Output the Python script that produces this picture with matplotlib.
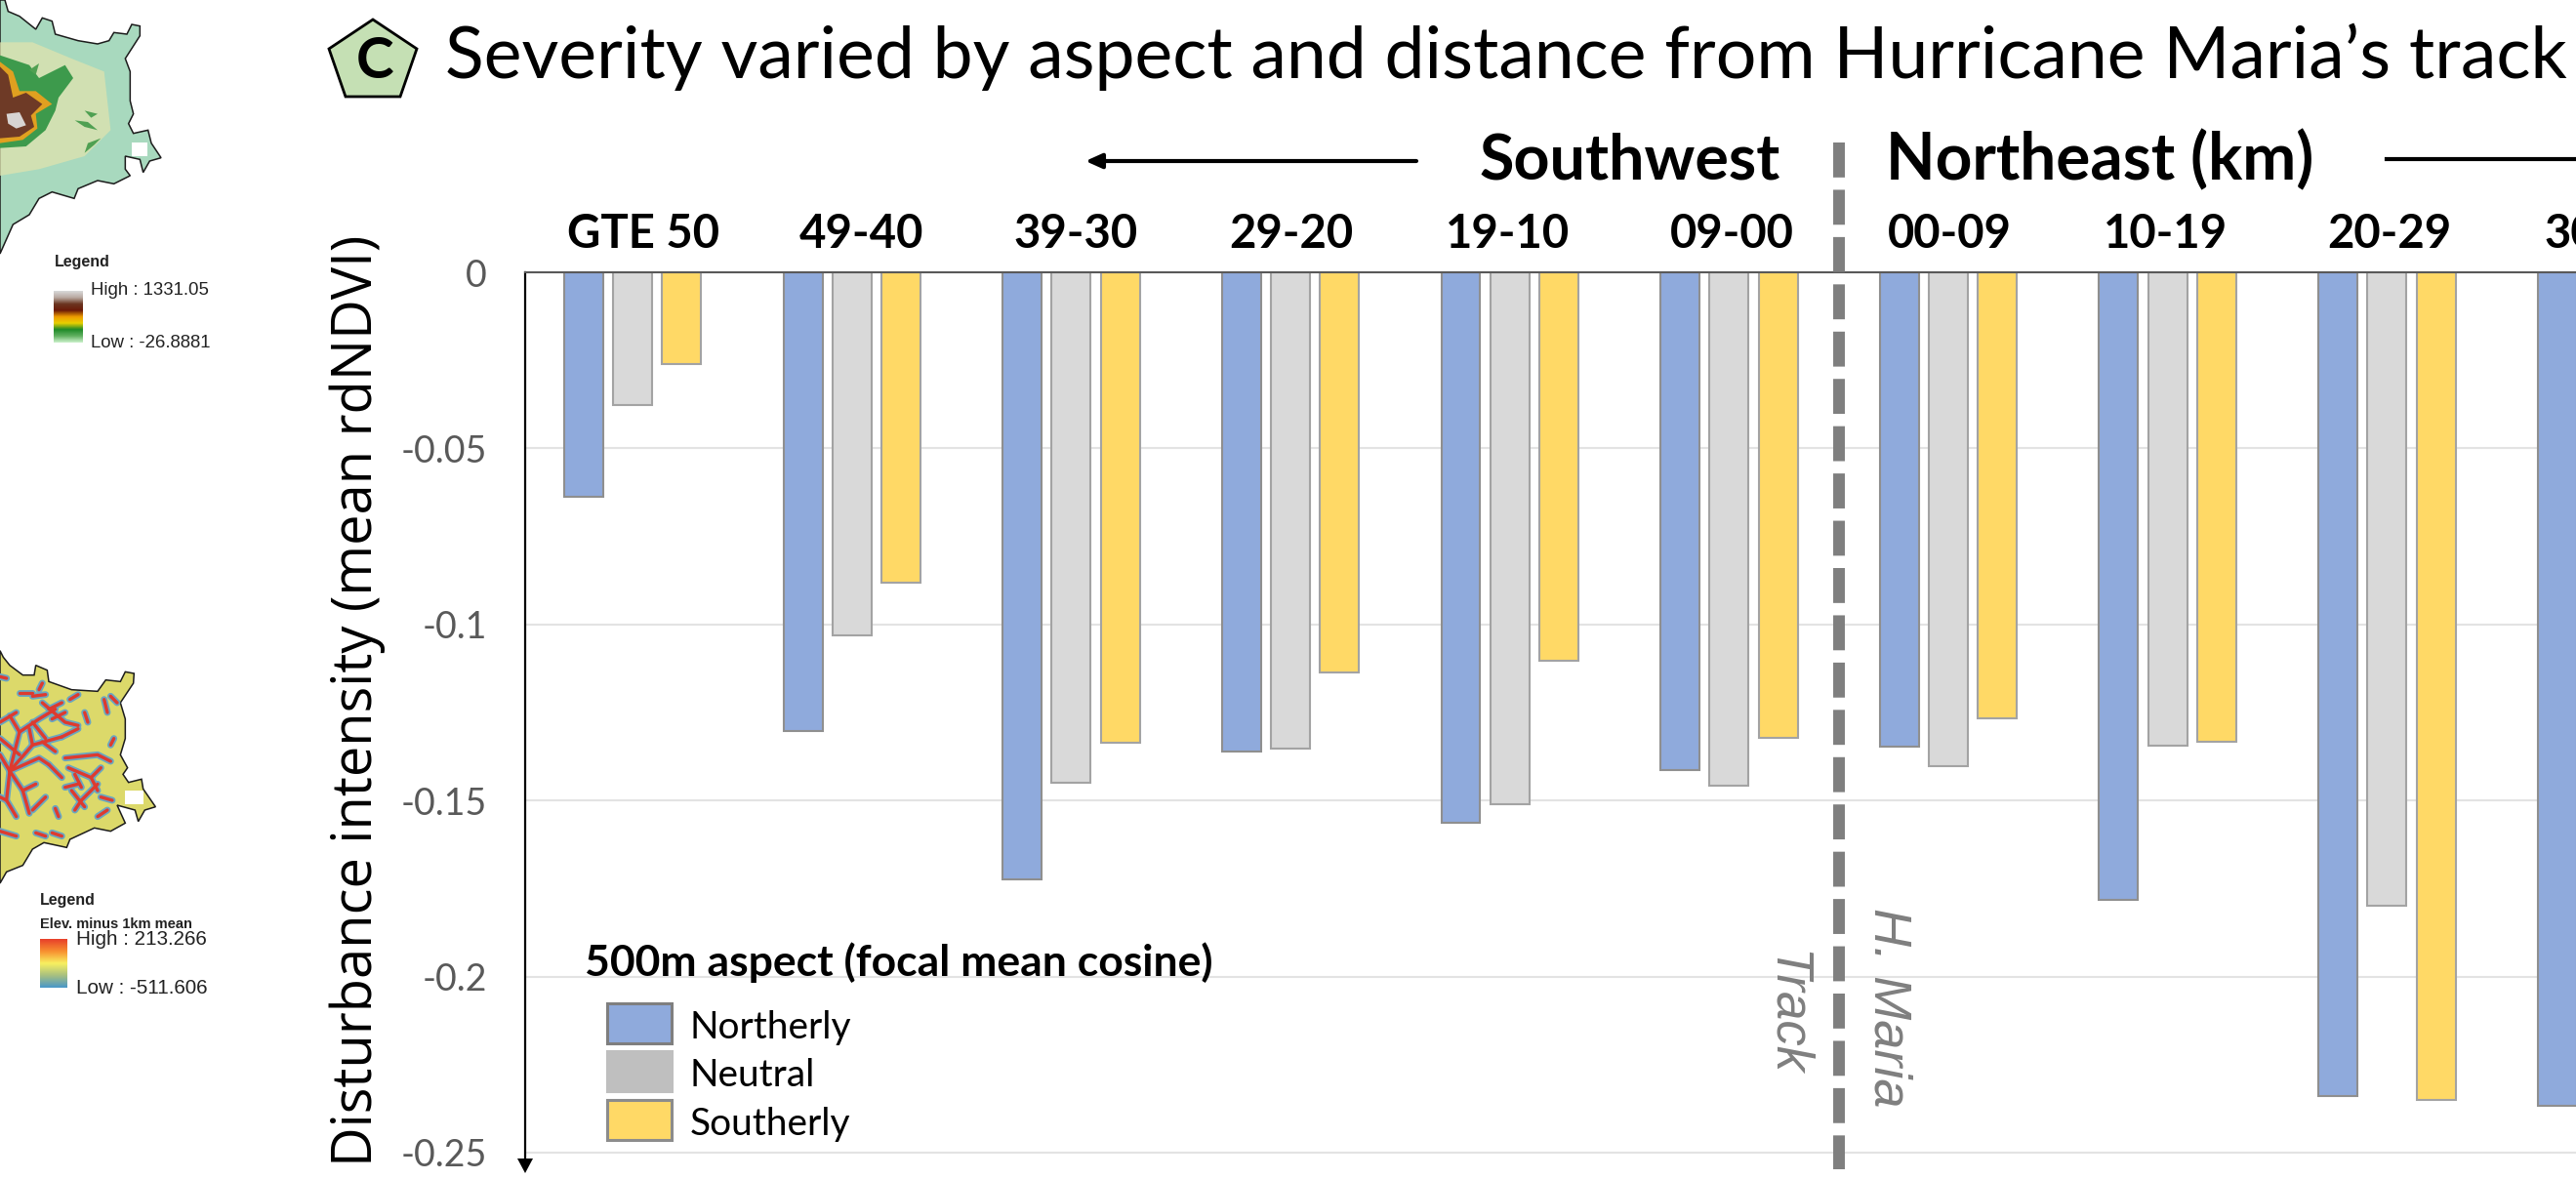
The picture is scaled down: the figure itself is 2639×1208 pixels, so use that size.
import numpy as np
import matplotlib
matplotlib.use('Agg')
import matplotlib.pyplot as plt
from matplotlib.colors import LinearSegmentedColormap
from matplotlib.patches import Polygon, Rectangle

# bar values, last group is cut by the right edge
distance_bins = ['GTE 50', '49-40', '39-30', '29-20', '19-10', '09-00', '00-09', '10-19', '20-29', '30-39']
northerly = [-0.0638, -0.1302, -0.1723, -0.1362, -0.1562, -0.1413, -0.1347, -0.1783, -0.2338, -0.2367]
neutral = [-0.0377, -0.1032, -0.1450, -0.1352, -0.1510, -0.1458, -0.1403, -0.1345, -0.1798, np.nan]
southerly = [-0.0261, -0.0882, -0.1336, -0.1137, -0.1102, -0.1323, -0.1268, -0.1333, -0.2349, np.nan]
y_ticks = [0, -0.05, -0.1, -0.15, -0.2, -0.25]
y_tick_labels = ['0', '-0.05', '-0.1', '-0.15', '-0.2', '-0.25']
legend_labels = ['Northerly', 'Neutral', 'Southerly']
# the bin names were placed by hand in the original, not quite over the groups
bin_label_shift = [0.05, 0.045, 0.02, 0.005, -0.008, 0.015, 0.005, -0.008, 0.01, 0]

# map outlines (zoomed pixels, divided by 3 later)
map1_outline = [(15, 0), (25, 35), (60, 50), (110, 90), (130, 55), (160, 65), (170, 105), (240, 125), (300, 135),
                (335, 125), (350, 100), (390, 105), (405, 75), (430, 80), (430, 110), (385, 180), (400, 220),
                (400, 310), (410, 350), (395, 380), (410, 410), (455, 400), (465, 440), (495, 485), (460, 495),
                (440, 530), (430, 490), (385, 480), (385, 520), (400, 540), (350, 565), (300, 555), (240, 580),
                (228, 610), (160, 590), (120, 610), (90, 660), (40, 690), (0, 780), (0, 0)]
map1_tan = [(0, 130), (100, 130), (220, 180), (320, 220), (340, 400), (260, 480), (120, 520), (0, 540)]
map1_green = [(0, 170), (60, 190), (90, 200), (120, 240), (200, 200), (225, 240), (180, 300), (170, 340),
              (140, 400), (80, 450), (0, 455)]
map1_orange = [(0, 190), (40, 220), (60, 280), (110, 280), (160, 320), (110, 350), (115, 395), (70, 430), (0, 440)]
map1_brown = [(0, 205), (25, 230), (40, 300), (80, 285), (130, 320), (95, 355), (105, 390), (60, 420), (0, 425)]
map1_peak = [(20, 350), (60, 345), (80, 385), (50, 395), (25, 380)]
map1_pods = [[(230, 370), (270, 375), (300, 400), (260, 390)], [(260, 340), (300, 350), (280, 362)],
             [(260, 470), (270, 440), (310, 425), (290, 445)], [(90, 215), (120, 195), (110, 230)]]

map2_outline = [(0, 80), (10, 100), (30, 125), (70, 155), (105, 155), (110, 125), (145, 140), (150, 175), (220, 200),
                (300, 205), (325, 170), (370, 175), (385, 145), (412, 150), (410, 180), (370, 240), (385, 290),
                (385, 350), (370, 400), (392, 440), (378, 460), (395, 485), (435, 475), (440, 505), (478, 560),
                (445, 570), (425, 605), (415, 570), (360, 555), (385, 610), (340, 635), (290, 625), (215, 660),
                (205, 685), (135, 670), (100, 690), (70, 740), (20, 760), (0, 795)]
map2_veins = [[(30, 450), (100, 370), (190, 345)], [(30, 450), (60, 330), (120, 290), (170, 260)],
              [(30, 450), (0, 400)], [(30, 450), (70, 510), (90, 580)], [(30, 450), (20, 540), (50, 590)],
              [(30, 450), (120, 410), (150, 430)], [(250, 540), (300, 490)], [(210, 440), (280, 470), (310, 440)],
              [(200, 410), (300, 400), (340, 420)], [(130, 240), (200, 300), (240, 310)], [(60, 210), (100, 210)],
              [(260, 270), (270, 300)], [(340, 220), (360, 240)], [(330, 570), (300, 590)], [(170, 565), (180, 590)],
              [(0, 635), (50, 650)], [(160, 640), (190, 650)], [(0, 160), (20, 165)], [(130, 180), (120, 200)],
              [(215, 230), (240, 215)], [(350, 350), (340, 370)], [(140, 530), (100, 570)], [(220, 510), (260, 560)],
              [(200, 500), (240, 490)], [(0, 300), (50, 270)], [(0, 350), (60, 400)], [(100, 300), (140, 350)],
              [(60, 330), (30, 280)], [(100, 370), (90, 320)], [(130, 360), (170, 390)], [(70, 510), (110, 490)],
              [(20, 540), (0, 530)], [(230, 460), (250, 500)], [(280, 470), (300, 510)], [(150, 260), (190, 240)],
              [(250, 540), (230, 570)], [(320, 230), (330, 270)], [(160, 290), (200, 270)], [(190, 345), (240, 320)],
              [(100, 220), (140, 215)], [(150, 430), (190, 470)], [(310, 530), (345, 540)], [(140, 650), (110, 640)]]

W, H = 2639, 1208
fig = plt.figure(figsize=(W / 100, H / 100), dpi=100)

# main chart axes
ax = fig.add_axes([538 / W, (H - 1190) / H, (W - 538) / W, (1190 - 279) / H])
x = np.arange(len(distance_bins))
bar_w = 0.178
step = 0.2235
edge = '#8f8f8f'
ax.bar(x - step, northerly, bar_w, color='#8faadc', edgecolor=edge, linewidth=1.5)
ax.bar(x, neutral, bar_w, color='#d9d9d9', edgecolor='#a3a3a3', linewidth=1.5)
ax.bar(x + step, southerly, bar_w, color='#ffd966', edgecolor='#a3a3a3', linewidth=1.5)
ax.set_yticks(y_ticks)
ax.set_yticklabels(y_tick_labels, fontfamily='Lato', fontsize=27, color='#595959')
ax.set_xticks([])
ax.set_xlim(-0.49, 8.862)
ax.set_ylim(-0.2525, 0)
# bin names as plain text, the last one runs off the picture
for xi, name, shift in zip(x, distance_bins, bin_label_shift):
    ax.text(xi + shift, 1.043, name, transform=ax.get_xaxis_transform(), family='Lato', fontweight='bold',
            fontsize=34, ha='center', va='center')
ax.tick_params(axis='y', length=0, pad=28)
ax.grid(axis='y', color='#e3e3e3', linewidth=1.5)
ax.set_axisbelow(True)
for side in ['right', 'bottom']:
    ax.spines[side].set_visible(False)
ax.spines['top'].set_color('#595959')
ax.spines['top'].set_linewidth(1.5)
ax.spines['left'].set_color('black')
ax.spines['left'].set_linewidth(1.6)

# overlay in picture pixels for everything that sits round the chart
ov = fig.add_axes([0, 0, 1, 1])
ov.patch.set_alpha(0)
ov.axis('off')


def px(points, dy=0):
    return [(a / 3, b / 3 + dy) for a, b in points]


# map 1, elevation
ov.add_patch(Polygon(px(map1_outline), closed=True, fc='#a8d9be', ec='#1c1c1c', lw=1.1, zorder=1))
ov.add_patch(Polygon(px(map1_tan), closed=True, fc='#dfe3ae', ec='none', alpha=0.75, zorder=2))
ov.add_patch(Polygon(px(map1_green), closed=True, fc='#3d9a4c', ec='none', zorder=3))
ov.add_patch(Polygon(px(map1_orange), closed=True, fc='#e0a020', ec='none', zorder=4))
ov.add_patch(Polygon(px(map1_brown), closed=True, fc='#6e3a26', ec='none', zorder=5))
ov.add_patch(Polygon(px(map1_peak), closed=True, fc='#d8d4d2', ec='none', zorder=6))
for pod in map1_pods:
    ov.add_patch(Polygon(px(pod), closed=True, fc='#4fa052', ec='none', zorder=3))
ov.add_patch(Rectangle((135, 146), 16, 14, fc='white', ec='none', zorder=2))

# map 2, elevation minus local mean
outline2 = Polygon(px(map2_outline, 640), closed=True, fc='#dcd96a', ec='#1c1c1c', lw=1.1, zorder=1)
ov.add_patch(outline2)
for vein in map2_veins:
    p = px(vein, 640)
    l1, = ov.plot(*zip(*p), color='#6aa6c0', lw=5, solid_capstyle='round', zorder=2)
    l1.set_clip_path(outline2)
for vein in map2_veins:
    p = px(vein, 640)
    l2, = ov.plot(*zip(*p), color='#de3a2e', lw=2.4, solid_capstyle='round', zorder=3)
    l2.set_clip_path(outline2)
ov.add_patch(Rectangle((128, 810), 19, 14, fc='white', ec='none', zorder=4))

# map legends
cmap1 = LinearSegmentedColormap.from_list('elev', ['#d8d8d8', '#b8a8a0', '#6b3520', '#6b1a08', '#ee9c00', '#e8d000',
                                                    '#1e8a28', '#60b060', '#c8f0c8'])
cmap2 = LinearSegmentedColormap.from_list('diff', ['#e8402a', '#f89030', '#f8f060', '#a8c080', '#4a98c8'])
grad = np.linspace(0, 1, 100).reshape(-1, 1)
ov.imshow(grad, cmap=cmap1, extent=(55, 85, 351, 298), aspect='auto', zorder=2)
ov.imshow(grad, cmap=cmap2, extent=(41, 69, 1012, 962), aspect='auto', zorder=2)
mapfont = dict(family='Liberation Sans', va='center', color='#222222')
ov.text(56, 269, 'Legend', fontsize=11.5, fontweight='bold', **mapfont)
ov.text(93, 298, 'High : 1331.05', fontsize=13.4, **mapfont)
ov.text(93, 352, 'Low : -26.8881', fontsize=13.4, **mapfont)
ov.text(41, 922, 'Legend', fontsize=11.5, fontweight='bold', **mapfont)
ov.text(41, 947, 'Elev. minus 1km mean', fontsize=10.5, fontweight='bold', **mapfont)
ov.text(78, 962, 'High : 213.266', fontsize=14.9, **mapfont)
ov.text(78, 1013, 'Low : -511.606', fontsize=14.9, **mapfont)

# panel badge and headings
ov.add_patch(Polygon([(382, 20), (427, 50), (410, 99), (354, 99), (337, 50)], closed=True, fc='#c5e0b4',
                     ec='black', lw=2, zorder=3))
ov.text(384, 64, 'C', family='Lato', fontweight='bold', fontsize=42, ha='center', va='center', zorder=4)
ov.text(456, 58, 'Severity varied by aspect and distance from Hurricane Maria\u2019s track', family='Lato',
        fontsize=52.8, ha='left', va='center')
ov.text(1516, 165, 'Southwest', family='Lato', fontweight='bold', fontsize=46.5, ha='left', va='center')
ov.text(1932, 165, 'Northeast (km)', family='Lato', fontweight='bold', fontsize=47.3, ha='left', va='center')
ov.annotate('', xy=(1112, 165), xytext=(1451, 165), arrowprops=dict(arrowstyle='-|>,head_width=0.45,head_length=1',
                                                                    color='black', lw=3, shrinkA=0, shrinkB=0))
ov.plot([2445, W], [163, 163], color='black', lw=3)

# axis title, arrow on the y axis
ov.text(366, 718, 'Disturbance intensity (mean rdNDVI)', family='Open Sans', fontsize=40.3, rotation=90,
        ha='center', va='center')
ov.add_patch(Polygon([(530, 1187), (546, 1187), (538, 1202)], closed=True, fc='black', ec='none'))

# hurricane track
ov.plot([1884, 1884], [146, 1198], color='#7f7f7f', lw=8.6, linestyle=(0, (36 / 12, 12.67 / 12)),
        dash_capstyle='butt')
ov.text(1935, 1032, 'H. Maria', family='Liberation Sans', style='italic', color='#7f7f7f', fontsize=39,
        rotation=-90, ha='center', va='center')
ov.text(1830, 1038, 'Track', family='Liberation Sans', style='italic', color='#7f7f7f', fontsize=38,
        rotation=-90, ha='center', va='center')

# aspect legend
ov.text(599, 986, '500m aspect (focal mean cosine)', family='Lato', fontweight='bold', fontsize=32, va='center')
swatches = [(1028, '#8faadc', '#7f7f7f'), (1077, '#bfbfbf', '#bfbfbf'), (1127, '#ffd966', '#8c8c8c')]
for (top, fc, ec), label in zip(swatches, legend_labels):
    ov.add_patch(Rectangle((622, top), 66, 41, fc=fc, ec=ec, lw=2.2))
    ov.text(707, top + 25, label, family='Lato', fontsize=28, va='center')

ov.set_xlim(0, W)
ov.set_ylim(H, 0)

fig.savefig('out.png', dpi=100)
